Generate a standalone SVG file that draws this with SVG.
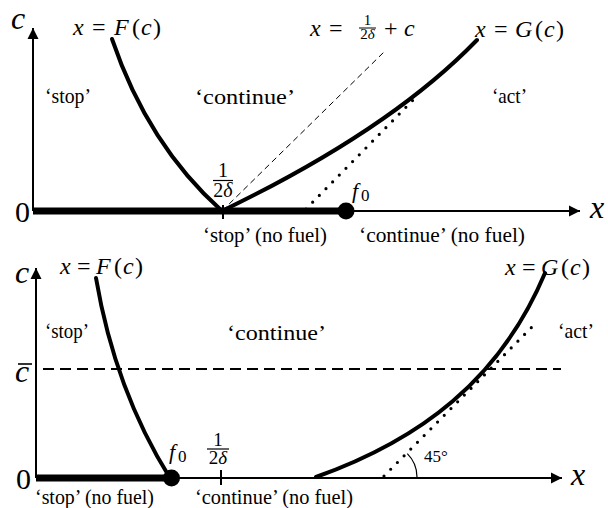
<svg xmlns="http://www.w3.org/2000/svg" width="608" height="508" viewBox="0 0 608 508">
<style>
.ax{stroke:#000;stroke-width:2;fill:none}
.cv{stroke:#000;stroke-width:4;fill:none;stroke-linecap:round}
.thick{stroke:#000;stroke-width:7}
.dots{stroke:#000;stroke-width:3.2;stroke-dasharray:0 9.5;stroke-linecap:round;fill:none}
.t{font-family:"Liberation Serif","Times New Roman",serif;fill:#000}
.i{font-style:italic}
.m{font-size:24px}
.lab{font-size:21px}
.big{font-size:32px}
</style>
<defs>
<marker id="ah" markerUnits="userSpaceOnUse" markerWidth="12" markerHeight="12" refX="11" refY="6" orient="auto">
<path d="M0,0.5 L11,6 L0,11.5 Z" fill="#000"/>
</marker>
</defs>

<g id="top-panel">
  <g id="top-axes">
    <line class="ax" x1="33" y1="211" x2="33" y2="28" marker-end="url(#ah)"/>
    <line class="ax" x1="33" y1="211" x2="580" y2="211" marker-end="url(#ah)"/>
    <line class="thick" x1="33" y1="211" x2="346" y2="211"/>
    <line class="ax" x1="223" y1="205" x2="223" y2="219"/>
    <circle cx="346" cy="211" r="8.5" fill="#000"/>
  </g>
  <g id="top-curves">
    <line x1="222" y1="211" x2="385" y2="51" stroke="#000" stroke-width="1" stroke-dasharray="6 4"/>
    <path class="cv" d="M112,39 Q148,145 222,211"/>
    <path class="cv" d="M222,211 Q390,130 477,40"/>
    <line class="dots" x1="306" y1="209" x2="416" y2="97"/>
  </g>
  <g id="top-labels" class="t">
    <text class="big i" x="11" y="29">c</text>
    <text style="font-size:30px" x="15" y="222">0</text>
    <text class="big i" x="590" y="218">x</text>
    <text class="m" y="35"><tspan class="i" x="73">x</tspan><tspan x="92">=</tspan><tspan class="i" x="114">F</tspan><tspan x="132">(</tspan><tspan class="i" x="141">c</tspan><tspan x="153">)</tspan></text>
    <text class="m" y="37"><tspan class="i" x="475">x</tspan><tspan x="494">=</tspan><tspan class="i" x="515">G</tspan><tspan x="535">(</tspan><tspan class="i" x="544">c</tspan><tspan x="556">)</tspan></text>
    <text class="m" y="36"><tspan class="i" x="310">x</tspan><tspan x="329">=</tspan><tspan x="384">+</tspan><tspan class="i" x="404">c</tspan></text>
    <text style="font-size:15px" x="367.5" y="25" text-anchor="middle">1</text>
    <line x1="359" y1="28" x2="376" y2="28" stroke="#000" stroke-width="1"/>
    <text style="font-size:15px" x="367.5" y="39" text-anchor="middle">2<tspan class="i">δ</tspan></text>
    <text style="font-size:20px" x="223" y="177" text-anchor="middle">1</text>
    <line x1="213" y1="180.5" x2="233" y2="180.5" stroke="#000" stroke-width="1.2"/>
    <text style="font-size:20px" x="223" y="197" text-anchor="middle">2<tspan class="i">δ</tspan></text>
    <text style="font-size:22px" class="i" x="352" y="198">f</text>
    <text style="font-size:17px" x="361" y="201">0</text>
    <text class="lab" x="45" y="103" textLength="46" lengthAdjust="spacingAndGlyphs">‘stop’</text>
    <text class="lab" x="195" y="104" textLength="100" lengthAdjust="spacingAndGlyphs">‘continue’</text>
    <text class="lab" x="492" y="103" textLength="35" lengthAdjust="spacingAndGlyphs">‘act’</text>
    <text class="lab" x="203" y="242" textLength="124" lengthAdjust="spacingAndGlyphs">‘stop’ (no fuel)</text>
    <text class="lab" x="359" y="242" textLength="166" lengthAdjust="spacingAndGlyphs">‘continue’ (no fuel)</text>
  </g>
</g>

<g id="bottom-panel">
  <g id="bottom-axes">
    <line class="ax" x1="36" y1="478" x2="36" y2="268" marker-end="url(#ah)"/>
    <line class="ax" x1="36" y1="478" x2="562" y2="478" marker-end="url(#ah)"/>
    <line class="thick" x1="36" y1="478" x2="171" y2="478"/>
    <line class="ax" x1="221" y1="470" x2="221" y2="485"/>
    <circle cx="171.5" cy="478" r="8.5" fill="#000"/>
    <line x1="43" y1="369" x2="561" y2="369" stroke="#000" stroke-width="2" stroke-dasharray="11 6"/>
  </g>
  <g id="bottom-curves">
    <path class="cv" d="M96,278 Q115,390 170,478"/>
    <path class="cv" d="M316,477 C420,440 500,380 545,273"/>
    <line class="dots" x1="384" y1="476" x2="532" y2="327"/>
    <path d="M407.3,453.7 A33,33 0 0 1 417,477" fill="none" stroke="#000" stroke-width="1.2"/>
  </g>
  <g id="bottom-labels" class="t">
    <text class="big i" x="15" y="283">c</text>
    <text class="big i" x="15" y="382">c</text>
    <line x1="18" y1="364" x2="32" y2="364" stroke="#000" stroke-width="1.6"/>
    <text style="font-size:30px" x="16" y="489">0</text>
    <text class="big i" x="571" y="485">x</text>
    <text class="m" y="274"><tspan class="i" x="60">x</tspan><tspan x="77">=</tspan><tspan class="i" x="96">F</tspan><tspan x="114">(</tspan><tspan class="i" x="123">c</tspan><tspan x="135">)</tspan></text>
    <text class="m" y="275"><tspan class="i" x="505">x</tspan><tspan x="522">=</tspan><tspan class="i" x="541">G</tspan><tspan x="561">(</tspan><tspan class="i" x="570">c</tspan><tspan x="582">)</tspan></text>
    <text style="font-size:19px" x="218" y="446" text-anchor="middle">1</text>
    <line x1="207" y1="449" x2="229" y2="449" stroke="#000" stroke-width="1.2"/>
    <text style="font-size:19px" x="218" y="464" text-anchor="middle">2<tspan class="i">δ</tspan></text>
    <text style="font-size:22px" class="i" x="169" y="459">f</text>
    <text style="font-size:17px" x="178" y="462">0</text>
    <text style="font-size:17px" x="424" y="462">45°</text>
    <text class="lab" x="45" y="338" textLength="44" lengthAdjust="spacingAndGlyphs">‘stop’</text>
    <text class="lab" x="227" y="340" textLength="99" lengthAdjust="spacingAndGlyphs">‘continue’</text>
    <text class="lab" x="558" y="338" textLength="36" lengthAdjust="spacingAndGlyphs">‘act’</text>
    <text class="lab" x="35" y="504" textLength="119" lengthAdjust="spacingAndGlyphs">‘stop’ (no fuel)</text>
    <text class="lab" x="195" y="504" textLength="158" lengthAdjust="spacingAndGlyphs">‘continue’ (no fuel)</text>
  </g>
</g>
</svg>
